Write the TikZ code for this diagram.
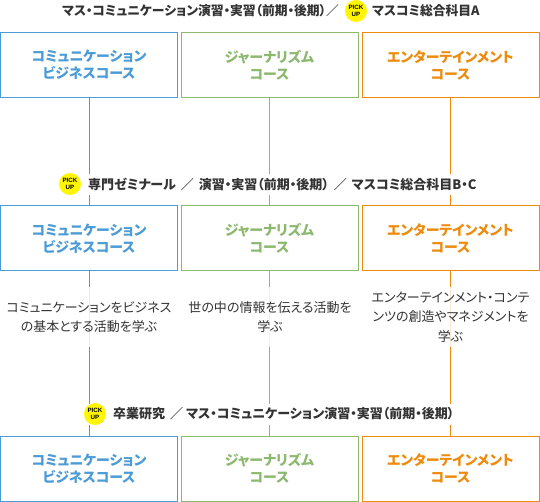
\documentclass[tikz,border=0pt]{standalone}
\usepackage{fontspec}
\setmainfont{Noto Sans CJK JP}[RawFeature=+palt]
\newfontfamily\badgefont{Liberation Sans}
\definecolor{cblue}{HTML}{4A9BD6}
\definecolor{cgreen}{HTML}{8DB86F}
\definecolor{corange}{HTML}{EE8A0C}
\definecolor{ctext}{HTML}{333333}
\definecolor{cbadge}{HTML}{FFF600}
\tikzset{
  coursebox/.style={draw=#1,text=#1,line width=1pt,minimum width=177pt,minimum height=65pt,inner sep=0pt,outer sep=0pt,align=center,font=\fontsize{13.9}{17}\selectfont\bfseries},
  link/.style={draw=#1,line width=1pt},
  heading/.style={text=ctext,inner sep=0pt,anchor=west,font=\fontsize{13}{15}\selectfont\bfseries},
  headingtop/.style={heading,font=\fontsize{12.8}{15}\selectfont\bfseries},
  band/.style={fill=white,inner sep=0pt,minimum height=21pt,anchor=west},
  badge/.style={circle,fill=cbadge,minimum size=22pt,inner sep=0pt,align=center,text=black,font=\badgefont\fontsize{6.2}{6.5}\selectfont\bfseries},
  desc/.style={fill=white,fill opacity=0.82,text opacity=1,text=ctext,minimum width=172pt,minimum height=60pt,inner sep=0pt,align=center,font=\fontsize{13}{19.6}\selectfont},
}
\begin{document}
\begin{tikzpicture}[x=1pt,y=-1pt]
\useasboundingbox (0,0) rectangle (540,502);
\fill[white] (0,0) rectangle (540,502);
\node[coursebox=cblue]   (a1) at (89,65)    {コミュニケーション\\ビジネスコース};
\node[coursebox=cgreen]  (b1) at (269.5,65) {ジャーナリズム\\コース};
\node[coursebox=corange] (c1) at (450.5,65) {エンターテインメント\\コース};
\node[coursebox=cblue]   (a2) at (89,238.5)    {コミュニケーション\\ビジネスコース};
\node[coursebox=cgreen]  (b2) at (269.5,238.5) {ジャーナリズム\\コース};
\node[coursebox=corange] (c2) at (450.5,238.5) {エンターテインメント\\コース};
\node[coursebox=cblue]   (a3) at (89,468.5)    {コミュニケーション\\ビジネスコース};
\node[coursebox=cgreen]  (b3) at (269.5,468.5) {ジャーナリズム\\コース};
\node[coursebox=corange] (c3) at (450.5,468.5) {エンターテインメント\\コース};
\draw[link=cblue]   (a1) -- (a2);
\draw[link=cblue]   (a2) -- (a3);
\draw[link=cgreen]  (b1) -- (b2);
\draw[link=cgreen]  (b2) -- (b3);
\draw[link=corange] (c1) -- (c2);
\draw[link=corange] (c2) -- (c3);
% headings
\node[headingtop] (h1a) at (62,11) {マス・コミュニケーション演習・実習（前期・後期）／};
\node[badge] (p1) at (356,11) {PICK\\UP};
\node[headingtop] (h1b) at (372,11) {マスコミ総合科目A};
\node[band,minimum width=430pt] (w2) at (59,184.5) {};
\node[badge] (p2) at (70,184) {PICK\\UP};
\node[heading] (h2) at (88,184) {専門ゼミナール\hspace{5pt}／\hspace{5pt}演習・実習（前期・後期）\hspace{5pt}／\hspace{5pt}マスコミ総合科目B・C};
\node[band,minimum width=380pt] (w3) at (84,414.5) {};
\node[badge] (p3) at (95,414) {PICK\\UP};
\node[heading] (h3) at (113,414) {卒業研究\hspace{5pt}／\hspace{3pt}マス・コミュニケーション演習・実習（前期・後期）};
% descriptions
\node[desc] (d1) at (89,317) {コミュニケーションをビジネス\\の基本とする活動を学ぶ};
\node[desc] (d2) at (270,317) {世の中の情報を伝える活動を\\学ぶ};
\node[desc] (d3) at (450.5,317) {エンターテインメント・コンテ\\ンツの創造やマネジメントを\\学ぶ};
\end{tikzpicture}
\end{document}
